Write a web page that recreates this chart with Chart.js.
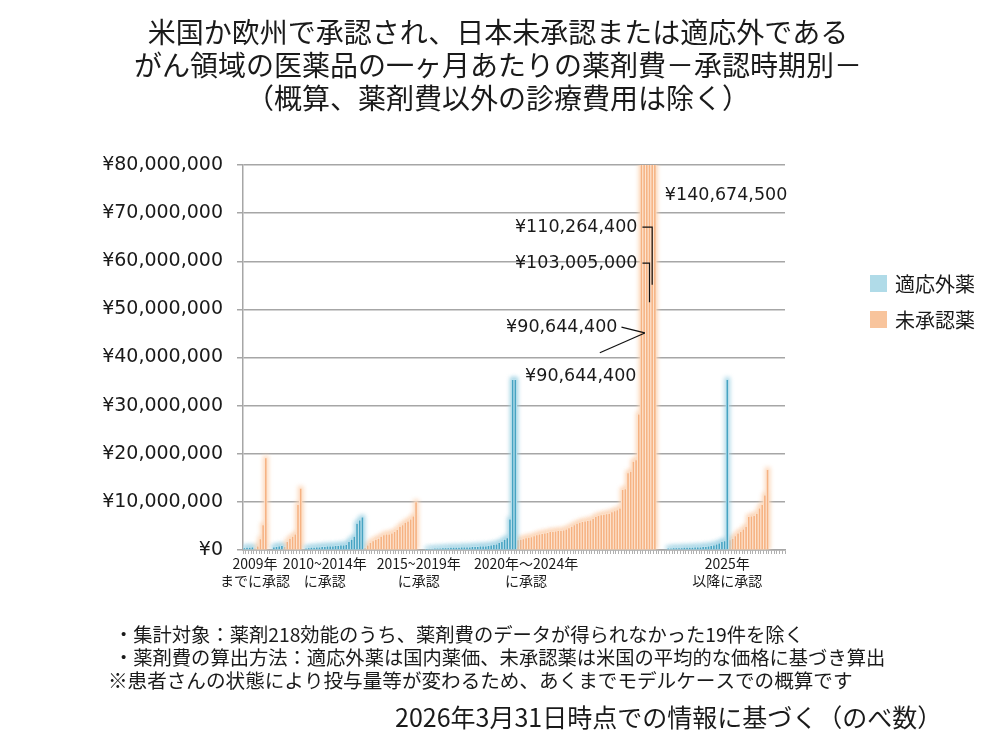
<!DOCTYPE html>
<html lang="ja">
<head>
  <meta charset="UTF-8">
  <title>がん領域の医薬品の一ヶ月あたりの薬剤費</title>
  <style>
    body { margin: 0; background: #fff; }
    canvas { display: block; }
  </style>
</head>
<body>
<canvas id="costChart" width="1000" height="750"></canvas>

<script src="https://cdn.jsdelivr.net/npm/chart.js"></script>
<script>
  // monthly drug cost, millions of yen, per approval period (blue = 適応外薬, orange = 未承認薬)
  const blue2009 = [0.4, 0.5, 0.5, 0.6];
  const orange2009 = [0.3, 0.8, 2.3, 5.2, 19.1];

  const blue2010 = [0.6, 0.7, 0.8, 0.9];
  const orange2010 = [0.7, 1.7, 2.4, 2.8, 3.3, 9.4, 12.8];

  const blue2015 = [0.3, 0.4, 0.5, 0.5, 0.6, 0.6, 0.7, 0.7, 0.8, 0.8, 0.8, 0.9, 0.9, 1.0, 1.0, 1.1,
                    1.7, 2.2, 2.8, 5.5, 6.2, 6.8];
  const orange2015 = [0.4, 1.0, 1.5, 1.9, 2.2, 2.4, 2.8, 3.1, 3.3, 3.3, 3.5, 3.8, 4.2, 4.9, 5.2, 5.7,
                      6.0, 6.4, 7.0, 10.0];

  const blue2020 = [0.1, 0.2, 0.2, 0.3, 0.3, 0.3, 0.4, 0.4, 0.4, 0.5, 0.5, 0.5, 0.5, 0.6, 0.6, 0.6,
                    0.6, 0.7, 0.7, 0.7, 0.8, 0.8, 0.8, 0.9, 1.0, 1.1, 1.2, 1.5, 1.7, 2.2, 2.5, 6.4,
                    35.4, 35.4];
  const orange2020 = [2.1, 2.2, 2.3, 2.5, 2.6, 2.7, 2.9, 3.1, 3.3, 3.4, 3.5, 3.6, 3.8, 3.8, 3.9, 4.0,
                      4.0, 4.1, 4.3, 4.6, 4.9, 5.2, 5.5, 5.7, 5.9, 6.0, 6.1, 6.2, 6.5, 6.9, 7.1, 7.3,
                      7.4, 7.5, 7.6, 7.9, 8.1, 8.3, 8.7, 12.5, 12.7, 16.0, 16.3, 18.4, 18.7, 28.2,
                      85.0, 90.6444, 90.6444, 103.005, 110.2644, 140.6745];

  const blue2025 = [0.3, 0.3, 0.4, 0.4, 0.4, 0.4, 0.5, 0.5, 0.5, 0.5, 0.6, 0.6, 0.6, 0.7, 0.7, 0.8,
                    0.9, 1.0, 1.2, 1.4, 1.7, 1.9, 35.4];
  const orange2025 = [2.1, 2.4, 2.9, 3.5, 3.8, 4.3, 4.9, 6.9, 7.0, 7.1, 7.6, 8.7, 9.4, 11.4, 16.7];

  // empty categories between periods and after the last one
  const spacerSlots = [2, 1, 3, 4];
  const trailingSlots = 6;

  // x tick labels and the category they sit under
  const periodLabels = [
    ['2009年', 'までに承認'],
    ['2010~2014年', 'に承認'],
    ['2015~2019年', 'に承認'],
    ['2020年～2024年', 'に承認'],
    ['2025年', '以降に承認']
  ];
  const periodLabelSlots = [4, 30, 65, 105, 180];

  // values written next to the clipped bars
  const calloutValues = [140674500, 110264400, 103005000, 90644400, 90644400];

  const seriesNames = ['適応外薬', '未承認薬'];

  const titleLines = [
    '米国か欧州で承認され、日本未承認または適応外である',
    'がん領域の医薬品の一ヶ月あたりの薬剤費－承認時期別－',
    '（概算、薬剤費以外の診療費用は除く）'
  ];
  const noteLines = [
    '・集計対象：薬剤218効能のうち、薬剤費のデータが得られなかった19件を除く',
    '・薬剤費の算出方法：適応外薬は国内薬価、未承認薬は米国の平均的な価格に基づき算出',
    '※患者さんの状態により投与量等が変わるため、あくまでモデルケースでの概算です'
  ];
  const sourceLine = '2026年3月31日時点での情報に基づく（のべ数）';

  // ---- build the category table ----
  const groups = [
    [blue2009, orange2009], [blue2010, orange2010], [blue2015, orange2015],
    [blue2020, orange2020], [blue2025, orange2025]
  ];
  const blueData = [];
  const orangeData = [];
  function addEmpty(n) {
    for (let i = 0; i < n; i++) { blueData.push(null); orangeData.push(null); }
  }
  groups.forEach((g, gi) => {
    if (gi > 0) addEmpty(spacerSlots[gi - 1]);
    g[0].forEach(v => { blueData.push(Math.round(v * 1e6)); orangeData.push(null); });
    g[1].forEach(v => { orangeData.push(Math.round(v * 1e6)); blueData.push(null); });
  });
  addEmpty(trailingSlots);

  const labels = blueData.map((_, i) => {
    const k = periodLabelSlots.indexOf(i);
    return k >= 0 ? periodLabels[k] : '';
  });

  const NUM_FONT = "'DejaVu Sans', sans-serif";
  const JP_FONT = "'Noto Sans CJK JP', 'Noto Sans', sans-serif";
  const yen = v => '¥' + Number(v).toLocaleString('en-US');

  const BLUE = '#46a3c2', BLUE_LIGHT = '#c3e4ef', BLUE_KEY = '#b0dbe8';
  const ORANGE = '#f6b282', ORANGE_LIGHT = '#fde5d2', ORANGE_KEY = '#f8c49c';

  // soft glow behind the thin bars, drawn from the bar elements' own geometry
  const glowPlugin = {
    id: 'glow',
    beforeDatasetDraw(chart, args) {
      const ctx = chart.ctx, area = chart.chartArea;
      const ds = chart.data.datasets[args.index];
      ctx.save();
      ctx.beginPath();
      ctx.rect(area.left, area.top, area.right - area.left, area.bottom - area.top);
      ctx.clip();
      ctx.filter = 'blur(2px)';
      ctx.fillStyle = ds.glowColor;
      args.meta.data.forEach((bar, i) => {
        if (ds.data[i] == null) return;
        const p = bar.getProps(['x', 'y', 'base', 'width'], true);
        ctx.fillRect(p.x - p.width / 2 - 1.5, p.y - 2.5, p.width + 3, p.base - p.y + 2.5);
      });
      ctx.restore();
    }
  };

  // title, legend, callouts and notes
  const textPlugin = {
    id: 'texts',
    afterDraw(chart) {
      const ctx = chart.ctx;
      const x = chart.scales.x, y = chart.scales.y;
      ctx.save();
      ctx.fillStyle = '#1a1a1a';
      ctx.textBaseline = 'middle';

      ctx.font = '28px ' + JP_FONT;
      ctx.textAlign = 'center';
      titleLines.forEach((t, i) => ctx.fillText(t, 498, 32 + i * 33));

      // legend
      [[BLUE_KEY, seriesNames[0]], [ORANGE_KEY, seriesNames[1]]].forEach((item, i) => {
        const top = 275 + i * 36;
        ctx.fillStyle = item[0];
        ctx.fillRect(870, top, 17, 17);
        ctx.fillStyle = '#1a1a1a';
        ctx.font = '20px ' + JP_FONT;
        ctx.textAlign = 'left';
        ctx.fillText(item[1], 895, top + 9);
      });

      // callouts for bars above the axis maximum
      const idx = [];
      calloutValues.forEach(v => {
        let from = 0;
        idx.forEach(p => { if (orangeData[p] === v) from = p + 1; });
        idx.push(orangeData.indexOf(v, from));
      });
      const px = i => x.getPixelForValue(i);
      const py = v => y.getPixelForValue(v * 1e6);
      const firstTall = idx[3] - 1;
      const textRight = px(firstTall) - 4;
      ctx.font = '17.5px ' + NUM_FONT;
      ctx.strokeStyle = '#111';
      ctx.lineWidth = 1.2;

      ctx.textAlign = 'left';
      ctx.fillText(yen(calloutValues[0]), px(idx[0]) + 10, py(73.6));

      ctx.textAlign = 'right';
      [[1, 67.1, 55.1], [2, 59.6, 51.5]].forEach(([k, at, to]) => {
        const ty = py(at);
        ctx.fillText(yen(calloutValues[k]), textRight, ty);
        ctx.beginPath();
        ctx.moveTo(textRight + 5, ty);
        ctx.lineTo(px(idx[k]), ty);
        ctx.lineTo(px(idx[k]), py(to));
        ctx.stroke();
      });

      const meetX = px(idx[3]) + 0.7, meetY = py(45.1);
      const upperY = py(46.3);
      ctx.fillText(yen(calloutValues[3]), textRight - 20, upperY);
      ctx.beginPath();
      ctx.moveTo(textRight - 16, upperY);
      ctx.lineTo(meetX, meetY);
      ctx.stroke();

      const lowerY = py(36.0);
      ctx.fillText(yen(calloutValues[4]), textRight - 1, lowerY);
      ctx.beginPath();
      ctx.moveTo(meetX - 45, py(41.0));
      ctx.lineTo(meetX, meetY);
      ctx.stroke();

      // notes
      ctx.textAlign = 'left';
      ctx.fillStyle = '#1a1a1a';
      ctx.font = '19.3px ' + JP_FONT;
      ctx.fillText(noteLines[0], 114, 635);
      ctx.fillText(noteLines[1], 114, 658);
      ctx.font = '19.6px ' + JP_FONT;
      ctx.fillText(noteLines[2], 108, 681);
      ctx.font = '25px ' + JP_FONT;
      ctx.fillText(sourceLine, 395, 717);
      ctx.restore();
    }
  };

  const barStyle = {
    grouped: false,
    barPercentage: 1.0,
    categoryPercentage: 1.0,
    borderWidth: { top: 0.6, left: 0.9, right: 0.9, bottom: 0 },
    borderSkipped: false
  };

  new Chart(document.getElementById('costChart'), {
    type: 'bar',
    data: {
      labels: labels,
      datasets: [
        Object.assign({ label: seriesNames[0], data: blueData, backgroundColor: BLUE,
          borderColor: BLUE_LIGHT, glowColor: 'rgba(160,210,228,0.85)' }, barStyle),
        Object.assign({ label: seriesNames[1], data: orangeData, backgroundColor: ORANGE,
          borderColor: ORANGE_LIGHT, glowColor: 'rgba(252,212,180,0.85)' }, barStyle)
      ]
    },
    options: {
      responsive: false,
      animation: false,
      layout: { padding: { left: 0, right: 215, top: 165, bottom: 0 } },
      plugins: {
        legend: { display: false },
        tooltip: { enabled: false }
      },
      scales: {
        x: {
          afterFit(scale) { scale.height = 200; },
          grid: { drawOnChartArea: false, drawTicks: true, tickLength: 4, color: '#b0b0b0', lineWidth: 1 },
          border: { display: true, color: '#a6a6a6', width: 1.5 },
          ticks: {
            autoSkip: false, maxRotation: 0, minRotation: 0, padding: 1,
            color: '#1a1a1a',
            font: { family: JP_FONT, size: 14, lineHeight: 1.2 }
          }
        },
        y: {
          min: 0,
          max: 80000000,
          afterFit(scale) { scale.width = 243; },
          grid: { color: '#a6a6a6', lineWidth: 1.5, tickLength: 6 },
          border: { display: true, color: '#a6a6a6', width: 1.5 },
          ticks: {
            stepSize: 10000000,
            padding: 14,
            color: '#1a1a1a',
            font: { family: NUM_FONT, size: 19 },
            callback: v => yen(v)
          }
        }
      }
    },
    plugins: [glowPlugin, textPlugin]
  });
</script>
</body>
</html>
